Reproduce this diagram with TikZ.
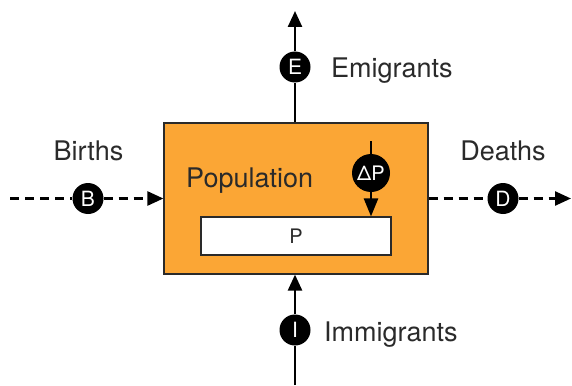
\documentclass[tikz,border=0pt]{standalone}
\usepackage{fontspec}
\setmainfont{TeX Gyre Heros}
\usetikzlibrary{arrows.meta}
\definecolor{popor}{HTML}{FBA635}
\definecolor{txt}{HTML}{2A2A2A}
\tikzset{
  flowline/.style={line width=2.5pt, -{Triangle[length=16pt,width=14pt]}},
  plainline/.style={line width=2.5pt},
  dashflow/.style={flowline, dash pattern=on 9pt off 6pt},
  rate/.style={circle, fill=black, text=white, inner sep=0pt, minimum size=31pt, font=\fontsize{21}{21}\selectfont},
  lbl/.style={text=txt, font=\fontsize{27}{27}\selectfont, inner sep=0pt},
}
\begin{document}
\begin{tikzpicture}[x=1pt,y=-1pt]
\useasboundingbox (0,0) rectangle (572,385);
% main box
\node[draw=txt, line width=1.2pt, fill=popor, minimum width=264pt, minimum height=151pt, inner sep=0pt] (pop) at (296,198.5) {};
\node[draw=txt, line width=1.2pt, fill=white, minimum width=190pt, minimum height=38pt, inner sep=0pt, font=\fontsize{20}{20}\selectfont, text=txt] (p) at (296,236) {P};
\node[lbl, anchor=base west] (poplbl) at (186,187) {Population};
% delta P
\coordinate (dtop) at (371,141);
\node[rate, minimum size=38pt, font=\fontsize{20}{20}\selectfont] (dp) at (371,173) {ΔP};
\draw[plainline] (dtop) -- (dp.north);
\draw[flowline, -{Triangle[length=18pt,width=14pt]}] (dp.south) -- (p.north -| dp);
% births
\coordinate (bstart) at (10,198.5);
\node[rate] (b) at (88,198.5) {B};
\draw[dashflow, -] (bstart) -- (b.west);
\draw[dashflow] (b.east) -- (pop.west);
\node[lbl, anchor=base] (blbl) at (88.5,160) {Births};
% deaths
\coordinate (dend) at (571,198.5);
\node[rate] (d) at (503,198.5) {D};
\draw[dashflow, -] (pop.east) -- (d.west);
\draw[dashflow] (d.east) -- (dend);
\node[lbl, anchor=base] (dlbl) at (503,160) {Deaths};
% emigrants
\coordinate (etop) at (295,11);
\node[rate] (e) at (295,67) {E};
\draw[plainline] (pop.north -| e) -- (e.south);
\draw[flowline] (e.north) -- (etop);
\node[lbl, anchor=base west] (elbl) at (331,78) {Emigrants};
% immigrants
\coordinate (ibot) at (295,385);
\node[rate] (i) at (295,330) {I};
\draw[plainline] (ibot) -- (i.south);
\draw[flowline] (i.north) -- (pop.south -| i);
\node[lbl, anchor=base west] (ilbl) at (324,341) {Immigrants};
\end{tikzpicture}
\end{document}
